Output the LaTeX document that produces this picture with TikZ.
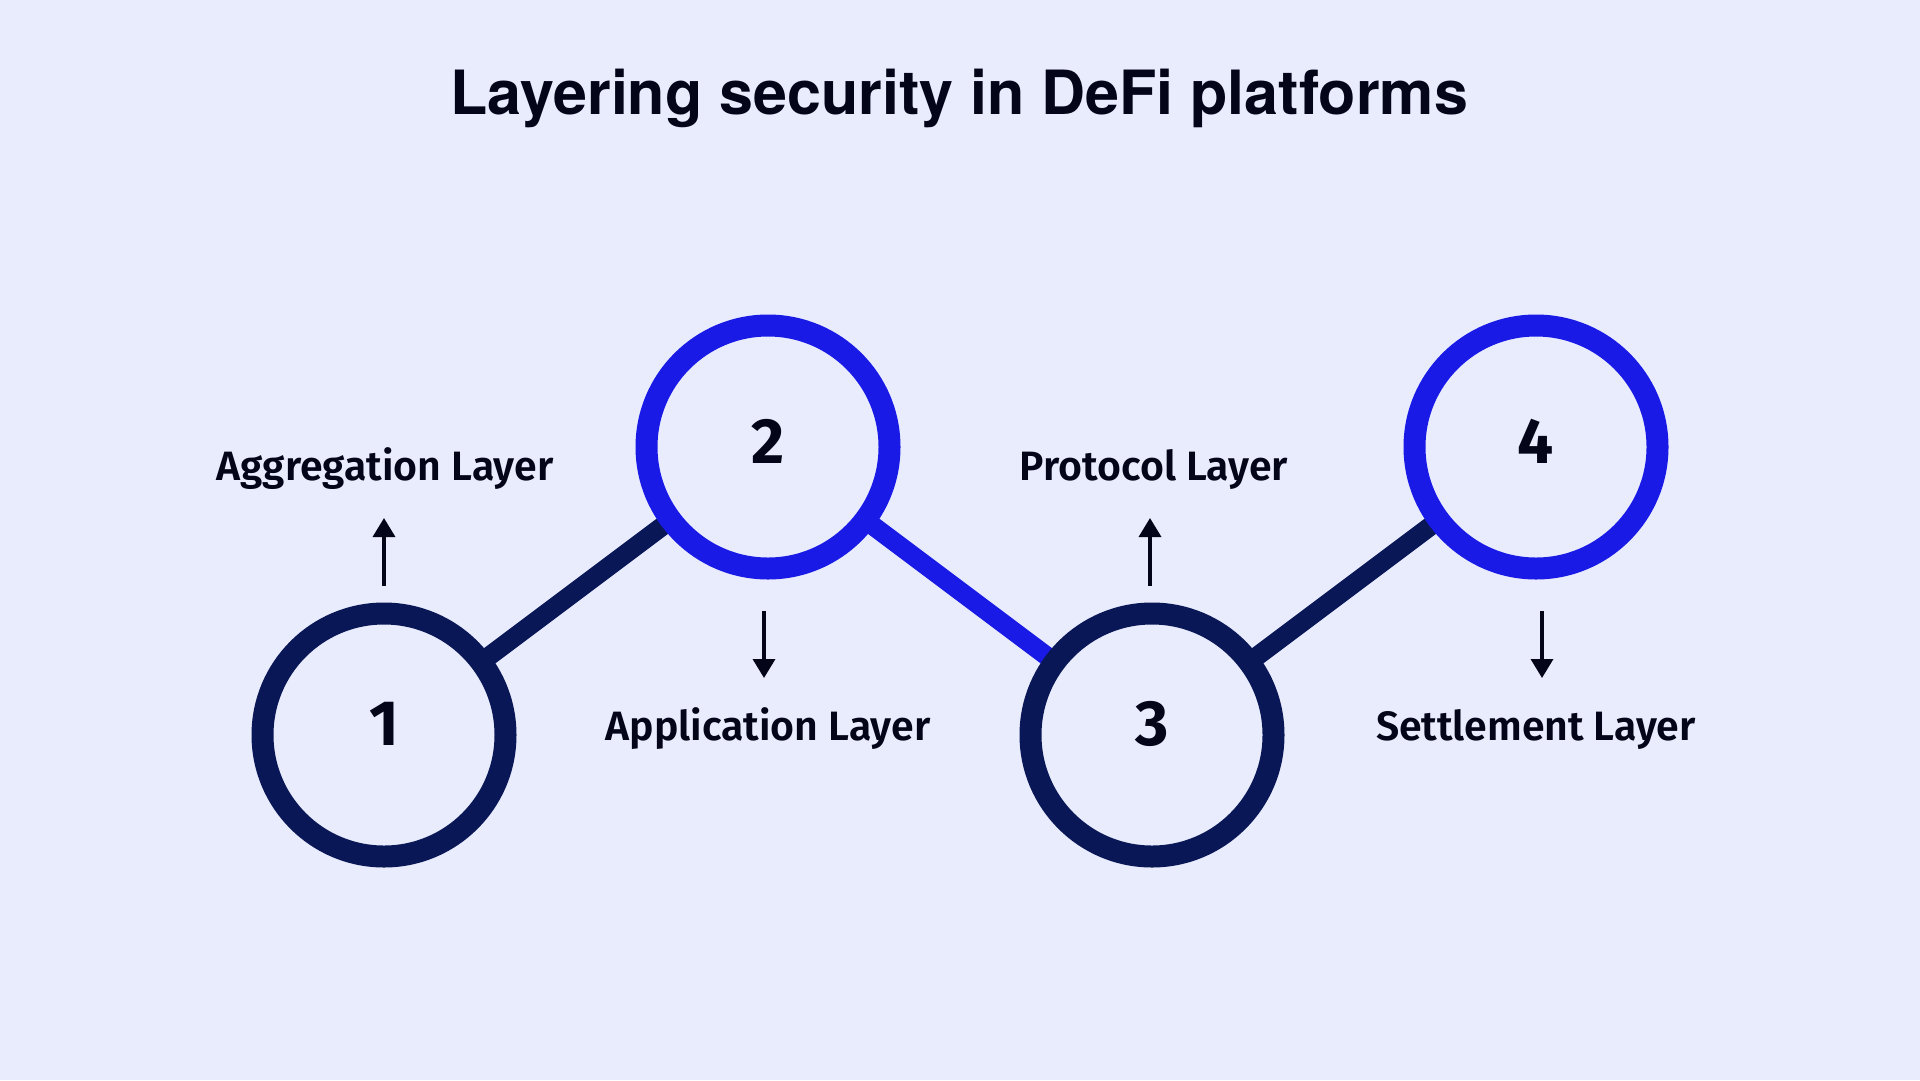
\documentclass[tikz,border=0pt]{standalone}
\usepackage{fontspec}
\usetikzlibrary{arrows.meta}
\setmainfont{Fira Sans}
\newfontfamily\titlefont{TeX Gyre Heros}
\newfontfamily\labelfont{Fira Sans SemiBold}
\newfontfamily\digitfont{Fira Sans Bold}

\definecolor{bgcol}{HTML}{E8ECFD}
\definecolor{navy}{HTML}{0A1757}
\definecolor{brightblue}{HTML}{1A1AE6}
\definecolor{ink}{HTML}{05051A}

\tikzset{
  ring/.style={circle, draw=#1, line width=22pt, fill=bgcol,
               minimum size=243pt, inner sep=0pt},
  link/.style={draw=#1, line width=19pt},
  digit/.style={text=ink, font=\digitfont\fontsize{64}{64}\selectfont},
  layerlabel/.style={text=ink, anchor=base, inner sep=0pt,
                     font=\labelfont\fontsize{41}{41}\selectfont},
  pointer/.style={draw=ink, line width=3.5pt,
                  -{Triangle[width=22pt,length=19pt]}},
}

\begin{document}
\begin{tikzpicture}[x=1pt, y=-1pt]
  % canvas
  \fill[bgcol] (0,0) rectangle (1920,1080);
  \useasboundingbox (0,0) rectangle (1920,1080);

  % heading
  \node[anchor=base, inner sep=0pt, text=ink,
        font=\titlefont\bfseries\fontsize{61}{61}\selectfont] (title)
    at (959,114) {Layering security in DeFi platforms};

  % ring centres
  \coordinate (p1) at (384,735);
  \coordinate (p2) at (768,447);
  \coordinate (p3) at (1152,735);
  \coordinate (p4) at (1536,447);

  % zig-zag links, drawn under the rings
  \draw[link=navy] (p1) -- (p2);
  \draw[link=brightblue] (p2) -- (p3);
  \draw[link=navy] (p3) -- (p4);

  % rings
  \node[ring=navy] (c1) at (p1) {};
  \node[ring=brightblue] (c2) at (p2) {};
  \node[ring=navy] (c3) at (p3) {};
  \node[ring=brightblue] (c4) at (p4) {};

  % step numbers, sitting a little above the ring centres
  \node[digit] (d1) at ([yshift=11pt]c1.center) {1};
  \node[digit] (d2) at ([yshift=6pt]c2.center) {2};
  \node[digit] (d3) at ([yshift=11pt]c3.center) {3};
  \node[digit] (d4) at ([yshift=6pt]c4.center) {4};

  % layer names
  \node[layerlabel] (l1) at (385,480) {Aggregation Layer};
  \node[layerlabel] (l2) at (768,740) {Application Layer};
  \node[layerlabel] (l3) at (1154,480) {Protocol Layer};
  \node[layerlabel] (l4) at (1536,740) {Settlement Layer};

  % pointer arrows
  \coordinate (a1s) at (384,586);  \coordinate (a1e) at (384,518);
  \coordinate (a2s) at (764,611);  \coordinate (a2e) at (764,678);
  \coordinate (a3s) at (1150,586); \coordinate (a3e) at (1150,518);
  \coordinate (a4s) at (1542,611); \coordinate (a4e) at (1542,678);
  \draw[pointer] (a1s) -- (a1e);
  \draw[pointer] (a2s) -- (a2e);
  \draw[pointer] (a3s) -- (a3e);
  \draw[pointer] (a4s) -- (a4e);
\end{tikzpicture}
\end{document}
